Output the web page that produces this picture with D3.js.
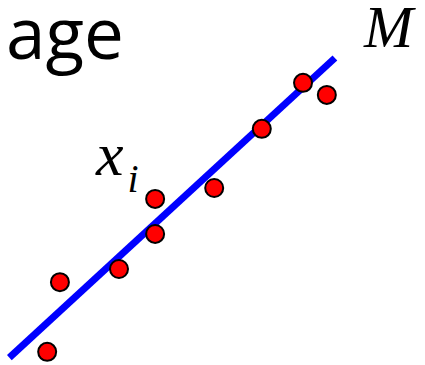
<!DOCTYPE html>
<html>
<head>
<meta charset="utf-8">
<script src="https://cdn.jsdelivr.net/npm/d3@7"></script>
<style>
  html, body { margin: 0; padding: 0; background: #fff; }
</style>
</head>
<body>
<div id="chart"></div>
<script>
// data (arbitrary units 0-100 on both axes)
const pointX = [11.1, 14.1, 28.0, 36.5, 36.5, 50.4, 61.6, 71.3, 76.9];
const pointY = [3.6, 22.7, 26.3, 35.9, 45.5, 48.5, 64.7, 77.3, 74.0];
const lineX = [2.2, 78.8];
const lineY = [2.0, 84.1];
const titleText = "age";
const modelLabel = "M";
const pointLabel = "x";
const pointLabelSub = "i";

const width = 425, height = 365;

const svg = d3.select("#chart")
  .append("svg")
  .attr("width", width)
  .attr("height", height);

const xScale = d3.scaleLinear().domain([0, 100]).range([0, width]);
const yScale = d3.scaleLinear().domain([0, 100]).range([height, 0]);

// 回歸直線 M
const lineData = lineX.map((x, i) => ({ x: x, y: lineY[i] }));
svg.append("path")
  .datum(lineData)
  .attr("d", d3.line().x((d) => xScale(d.x)).y((d) => yScale(d.y)))
  .attr("stroke", "#0000ff")
  .attr("stroke-width", 7)
  .attr("fill", "none");

// 資料點
const points = pointX.map((x, i) => ({ x: x, y: pointY[i] }));
svg.selectAll(".pt")
  .data(points)
  .enter()
  .append("circle")
  .attr("class", "pt")
  .attr("cx", (d) => xScale(d.x))
  .attr("cy", (d) => yScale(d.y))
  .attr("r", 9)
  .attr("fill", "#ff0000")
  .attr("stroke", "#000")
  .attr("stroke-width", 2);

// 標題
svg.append("text")
  .attr("x", 6)
  .attr("y", 59)
  .style("font-family", "'Open Sans', sans-serif")
  .style("font-size", "71px")
  .text(titleText);

// M 標籤
svg.append("text")
  .attr("x", 364)
  .attr("y", 47)
  .style("font-family", "'Liberation Serif', serif")
  .style("font-style", "italic")
  .style("font-size", "59px")
  .text(modelLabel);

// x_i 標籤
const lab = svg.append("text")
  .attr("x", 96)
  .attr("y", 175)
  .style("font-family", "'Liberation Serif', serif")
  .style("font-style", "italic")
  .style("font-size", "62px")
  .text(pointLabel);
lab.append("tspan")
  .attr("dx", 4)
  .attr("dy", 17)
  .style("font-size", "40px")
  .text(pointLabelSub);
</script>
</body>
</html>
